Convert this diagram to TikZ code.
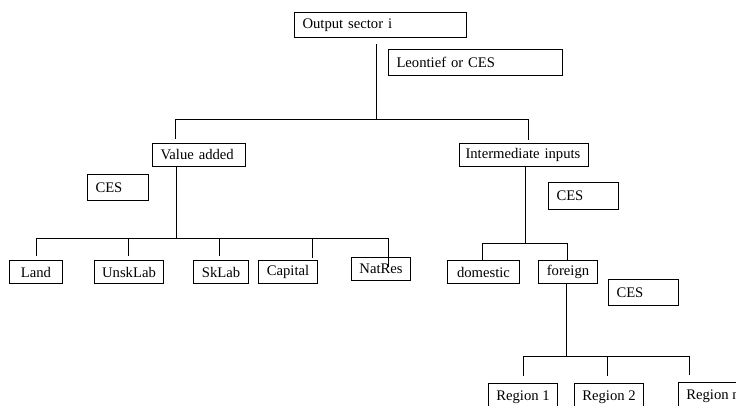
\documentclass[tikz,border=0pt]{standalone}
\usepackage{fontspec}
\setmainfont{Liberation Serif}
\usepackage{tikz}

\begin{document}
\begin{tikzpicture}[
    x=0.75pt, y=-0.75pt,
    font=\fontsize{11}{13}\selectfont,
    box/.style={draw=black, line width=0.75pt, anchor=north west, inner xsep=6pt, inner ysep=0pt, align=left},
    leaf/.style={draw=black, line width=0.75pt, anchor=north west, inner xsep=2pt, inner ysep=0pt, minimum height=17.25pt},
    link/.style={draw=black, line width=0.75pt}
]
    \clip (0,0) rectangle (736,405);

    % Top level
    \node [box, text width=117pt, minimum height=18.75pt] (out) at (294,12) {Output sector i};
    \node [box, text width=118.5pt, minimum height=19.5pt] (leon) at (388,49) {Leontief or CES};

    % Second level
    \node [box, text width=57.75pt, minimum height=17.25pt] (va) at (152,143) {Value added};
    \node [box, inner xsep=4.5pt, text width=88pt, minimum height=17.25pt] (ii) at (459,143) {Intermediate inputs};
    \node [box, text width=33.75pt, minimum height=19.5pt] (cesva) at (87,174) {CES};
    \node [box, text width=40.5pt, minimum height=20.25pt] (cesii) at (548,182) {CES};

    % Factors of value added
    \node [leaf, minimum width=39.75pt] (land) at (9,260) {Land};
    \node [leaf, minimum width=51.75pt] (unsk) at (94,260) {UnskLab};
    \node [leaf, minimum width=41.25pt] (sk) at (193,260) {SkLab};
    \node [leaf, minimum width=44.25pt] (cap) at (258,260) {Capital};
    \node [leaf, minimum width=44.25pt] (nat) at (351,257) {NatRes};

    % Intermediate inputs by origin
    \node [leaf, minimum width=54pt] (dom) at (447,260) {domestic};
    \node [leaf, minimum width=44.25pt] (for) at (538,260) {foreign};
    \node [box, text width=40.5pt, minimum height=19.5pt] (cesfor) at (608,279) {CES};

    % Regions
    \node [leaf, minimum width=51.75pt, minimum height=20pt] (reg1) at (488,383) {Region 1};
    \node [leaf, minimum width=51.75pt, minimum height=20pt] (reg2) at (574,383) {Region 2};
    \node [leaf, minimum width=51.75pt, minimum height=20pt] (regn) at (678,382) {Region n};

    % Output -> value added / intermediate inputs
    \coordinate (jtop) at (376,119);
    \coordinate (jva) at (175,119);
    \coordinate (jii) at (528,119);
    \draw [link, shorten <=4.5pt] (out.south -| jtop) -- (jtop);
    \draw [link] (jva) -- (jii);
    \draw [link, shorten >=3pt] (jva) -- (jva |- va.north);
    \draw [link, shorten >=2.25pt] (jii) -- (jii |- ii.north);

    % Value added -> factors
    \coordinate (jfac) at (176,238);
    \draw [link] (va.south -| jfac) -- (jfac);
    \draw [link] (36,238) -- (388,238);
    \foreach \n/\x/\s in {land/36/3pt, unsk/128/3pt, sk/219/3pt, cap/312/1.5pt, nat/388/-7.5pt}
        \draw [link, shorten >=\s] (\x,238) -- (\n.north -| \x,0);

    % Intermediate inputs -> domestic / foreign
    \coordinate (jorg) at (525,243);
    \draw [link] (ii.south -| jorg) -- (jorg);
    \draw [link] (482,243) -- (567,243);
    \foreach \n/\x in {dom/482, for/567}
        \draw [link] (\x,243) -- (\n.north -| \x,0);

    % Foreign -> regions
    \coordinate (jreg) at (566,356);
    \draw [link] (for.south -| jreg) -- (jreg);
    \draw [link] (523,356) -- (689,356);
    \foreach \n/\x in {reg1/523, reg2/607, regn/689}
        \draw [link, shorten >=5.25pt] (\x,356) -- (\n.north -| \x,0);

\end{tikzpicture}
\end{document}
